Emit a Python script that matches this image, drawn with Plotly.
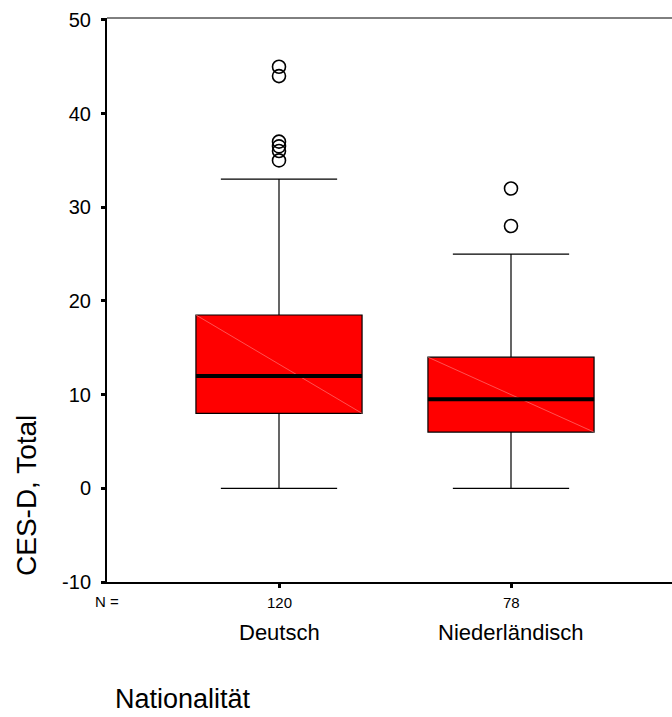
import plotly.graph_objects as go

# CES-D total scores by nationality (boxplot summary)
categories = ["Deutsch", "Niederländisch"]
n_counts = [120, 78]
q1 = [8, 6]
median = [12, 9.5]
q3 = [18.5, 14]
lower_whisker = [0, 0]
upper_whisker = [33, 25]
outliers = [
    [35, 36, 36.5, 37, 44, 45],
    [28, 32],
]

y_ticks = [-10, 0, 10, 20, 30, 40, 50]

FONT = "Arial, Liberation Sans, sans-serif"
positions = [1, 2]
box_w = 0.716

W, H = 672, 717
ML, MR, MT, MB = 107, 0, 18, 135
plot_h = H - MT - MB
plot_w = W - ML - MR


def py(pix):
    """Pixel row -> paper y."""
    return (H - MB - pix) / plot_h


def px(pix):
    """Pixel column -> paper x."""
    return (pix - ML) / plot_w


fig = go.Figure()

for i, pos in enumerate(positions):
    fig.add_trace(go.Box(
        x=[pos], q1=[q1[i]], median=[median[i]], q3=[q3[i]],
        lowerfence=[lower_whisker[i]], upperfence=[upper_whisker[i]],
        width=box_w, whiskerwidth=0.7, boxpoints=False,
        fillcolor="#ff0000", line=dict(color="black", width=1.2),
        showlegend=False, hoverinfo="skip",
    ))
    # faint diagonal across the box face
    fig.add_trace(go.Scatter(
        x=[pos - box_w / 2, pos + box_w / 2], y=[q3[i], q1[i]],
        mode="lines", line=dict(color="rgba(255,150,150,0.9)", width=0.6),
        showlegend=False, hoverinfo="skip",
    ))
    # heavy median bar
    fig.add_trace(go.Scatter(
        x=[pos - box_w / 2, pos + box_w / 2], y=[median[i], median[i]],
        mode="lines", line=dict(color="black", width=4),
        showlegend=False, hoverinfo="skip",
    ))
    fig.add_trace(go.Scatter(
        x=[pos] * len(outliers[i]), y=outliers[i], mode="markers",
        marker=dict(symbol="circle-open", size=13,
                    line=dict(color="black", width=1.6), color="black"),
        showlegend=False, hoverinfo="skip",
    ))

annotations = [
    dict(x=px(107), xref="paper", y=py(601), yref="paper",
         text="N =", showarrow=False, font=dict(size=15, color="black", family=FONT),
         xanchor="center", yanchor="middle"),
    dict(x=px(183), xref="paper", y=py(716), yref="paper",
         text="Nationalität", showarrow=False,
         font=dict(size=27, color="black", family=FONT),
         xanchor="center", yanchor="bottom"),
    dict(x=px(27), xref="paper", y=py(496), yref="paper",
         text="CES-D, Total", showarrow=False, textangle=-90,
         font=dict(size=28, color="black", family=FONT),
         xanchor="center", yanchor="middle"),
]
for pos, n, cat in zip(positions, n_counts, categories):
    annotations.append(dict(
        x=pos, xref="x", y=py(602), yref="paper", text=str(n), showarrow=False,
        font=dict(size=15, color="black", family=FONT),
        xanchor="center", yanchor="middle"))
    annotations.append(dict(
        x=pos, xref="x", y=py(632), yref="paper", text=cat, showarrow=False,
        font=dict(size=22, color="black", family=FONT),
        xanchor="center", yanchor="middle"))

fig.update_layout(
    width=W, height=H,
    margin=dict(l=ML, r=MR, t=MT, b=MB, pad=0),
    paper_bgcolor="white", plot_bgcolor="white",
    font=dict(family=FONT, color="black"),
    showlegend=False,
    annotations=annotations,
    shapes=[dict(type="line", xref="paper", yref="paper", x0=0, x1=1, y0=1, y1=1,
                 line=dict(color="black", width=1))],
    xaxis=dict(
        range=[1 - 172 / 232, 2 + (W - 511) / 232],
        tickmode="array", tickvals=positions, ticktext=["", ""],
        ticks="outside", ticklen=4, tickwidth=3, tickcolor="black",
        showline=True, linecolor="black", linewidth=2,
        showgrid=False, zeroline=False,
    ),
    yaxis=dict(
        range=[-10, 50.2],
        tickmode="array", tickvals=y_ticks, ticktext=[str(v) for v in y_ticks],
        ticks="outside", ticklen=4, tickwidth=3, tickcolor="black",
        tickfont=dict(size=20, color="black", family=FONT),
        ticklabelstandoff=6,
        showline=True, linecolor="black", linewidth=2,
        showgrid=False, zeroline=False,
    ),
)

fig.write_html("out.html")
